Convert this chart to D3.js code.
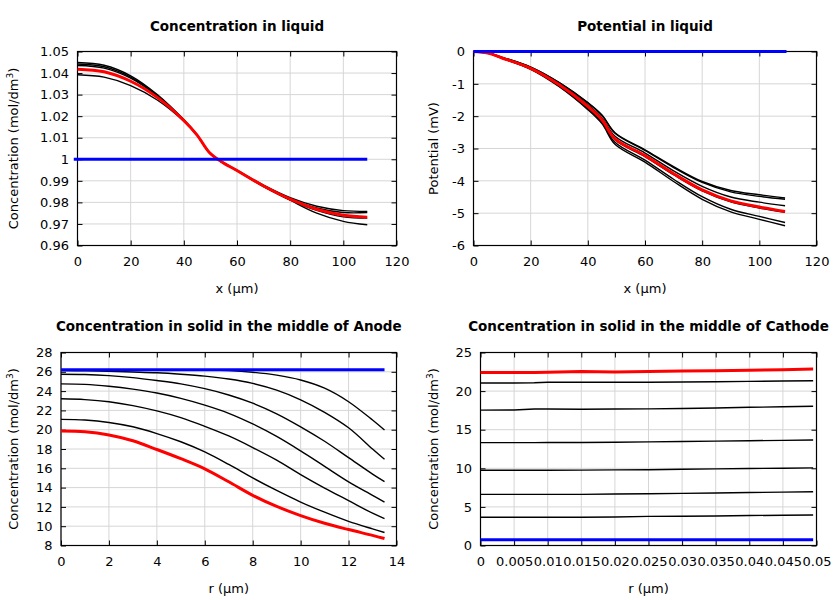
<!DOCTYPE html>
<html><head><meta charset="utf-8">
<script src="https://cdn.jsdelivr.net/npm/d3@7"></script>
<style>
body{margin:0;background:#fff}
svg{display:block}
text{font-family:"DejaVu Sans",sans-serif}
</style>
</head><body>
<svg id="c" width="840" height="600"></svg>
<script>
// ---------- Panel 1: Concentration in liquid ----------
const liqX = [0,10,20,30,40,45,49.5,54,60,70,80,90,100,109];
const liqRed = [1.0418,1.0406,1.0362,1.0287,1.0180,1.0112,1.0033,0.9990,0.9948,0.9876,0.9815,0.9768,0.9740,0.9731];
const liqBlack = [
  [1.0449,1.0436,1.0387,1.0300,1.0183,1.0113,1.0033,0.9989,0.9947,0.9873,0.9810,0.9750,0.9712,0.9696],
  [1.0442,1.0429,1.0381,1.0296,1.0182,1.0113,1.0033,0.9989,0.9947,0.9874,0.9812,0.9763,0.9733,0.9727],
  [1.0435,1.0423,1.0376,1.0293,1.0181,1.0112,1.0033,0.9990,0.9948,0.9876,0.9816,0.9774,0.9753,0.9753],
  [1.0392,1.0381,1.0342,1.0275,1.0176,1.0110,1.0033,0.9991,0.9950,0.9880,0.9822,0.9782,0.9762,0.9758]
];
const liqBlueX = [-1.4,109];
const liqBlue = [1,1];
const liqXTicks = [0,20,40,60,80,100,120];
const liqXLabels = ["0","20","40","60","80","100","120"];
const liqYTicks = [0.96,0.97,0.98,0.99,1,1.01,1.02,1.03,1.04,1.05];
const liqYLabels = ["0.96","0.97","0.98","0.99","1","1.01","1.02","1.03","1.04","1.05"];

// ---------- Panel 2: Potential in liquid ----------
const potX = [0,5,10,20,30,40,45,49.5,60,70,80,90,100,109];
const potRed = [0,-0.05,-0.2,-0.52,-1.03,-1.70,-2.12,-2.70,-3.22,-3.78,-4.28,-4.62,-4.81,-4.95];
const potBlack = [
  [0,-0.04,-0.18,-0.48,-0.96,-1.58,-1.97,-2.51,-3.04,-3.56,-4.02,-4.30,-4.43,-4.53],
  [0,-0.04,-0.18,-0.48,-0.96,-1.59,-1.98,-2.53,-3.06,-3.59,-4.05,-4.34,-4.48,-4.57],
  [0,-0.05,-0.19,-0.50,-1.00,-1.65,-2.06,-2.62,-3.14,-3.69,-4.17,-4.50,-4.66,-4.77],
  [0,-0.05,-0.20,-0.52,-1.04,-1.72,-2.14,-2.73,-3.25,-3.81,-4.31,-4.65,-4.84,-4.97],
  [0,-0.05,-0.21,-0.54,-1.07,-1.77,-2.20,-2.81,-3.36,-3.95,-4.49,-4.88,-5.10,-5.29],
  [0,-0.05,-0.21,-0.55,-1.09,-1.80,-2.24,-2.87,-3.42,-4.02,-4.57,-4.96,-5.19,-5.39]
];
const potBlueX = [0,109.5];
const potBlue = [0,0];
const potXTicks = [0,20,40,60,80,100,120];
const potXLabels = ["0","20","40","60","80","100","120"];
const potYTicks = [-6,-5,-4,-3,-2,-1,0];
const potYLabels = ["-6","-5","-4","-3","-2","-1","0"];

// ---------- Panel 3: Anode solid ----------
const anR = [0,1,2,3,4,5,6,7,8,9,10,11,12,13,13.5];
const anRed = [19.86,19.78,19.45,18.85,17.95,17.0,15.95,14.6,13.2,12.05,11.1,10.3,9.65,9.05,8.72];
const anBlack = [
  [26.2,26.2,26.2,26.2,26.2,26.2,26.18,26.12,25.95,25.65,25.15,24.3,22.9,21.0,19.96],
  [26.12,26.1,26.05,25.98,25.9,25.75,25.55,25.25,24.8,24.1,23.1,21.8,20.2,18.0,16.93],
  [25.75,25.72,25.6,25.4,25.1,24.75,24.25,23.6,22.75,21.65,20.3,18.8,17.1,15.4,14.62],
  [24.75,24.7,24.5,24.2,23.8,23.25,22.55,21.7,20.6,19.3,17.8,16.2,14.6,13.2,12.49],
  [23.2,23.12,22.9,22.5,21.95,21.25,20.35,19.35,18.15,16.85,15.35,13.95,12.65,11.35,10.79],
  [21.07,21.0,20.75,20.3,19.6,18.75,17.7,16.4,15.0,13.7,12.5,11.45,10.5,9.72,9.35]
];
const anBlueX = [0,13.5];
const anBlue = [26.2,26.2];
const anXTicks = [0,2,4,6,8,10,12,14];
const anXLabels = ["0","2","4","6","8","10","12","14"];
const anYTicks = [8,10,12,14,16,18,20,22,24,26,28];
const anYLabels = ["8","10","12","14","16","18","20","22","24","26","28"];

// ---------- Panel 4: Cathode solid ----------
const caR = [0,0.005,0.008,0.01,0.015,0.02,0.025,0.03,0.035,0.04,0.045,0.0495];
const caRed = [22.42,22.42,22.42,22.45,22.55,22.48,22.55,22.6,22.65,22.7,22.78,22.85];
const caBlack = [
  [21.05,21.05,21.08,21.15,21.15,21.15,21.15,21.18,21.22,21.26,21.3,21.35],
  [17.53,17.55,17.68,17.68,17.65,17.68,17.7,17.75,17.82,17.9,17.97,18.04],
  [13.32,13.32,13.33,13.34,13.35,13.38,13.42,13.47,13.52,13.57,13.62,13.66],
  [9.75,9.75,9.75,9.75,9.77,9.8,9.82,9.87,9.92,9.97,10.01,10.05],
  [6.62,6.62,6.62,6.62,6.62,6.68,6.7,6.75,6.8,6.86,6.91,6.96],
  [3.65,3.65,3.65,3.65,3.66,3.7,3.77,3.78,3.83,3.88,3.92,3.95]
];
const caBlueX = [0,0.0495];
const caBlue = [0.73,0.73];
const caXTicks = [0,0.005,0.01,0.015,0.02,0.025,0.03,0.035,0.04,0.045,0.05];
const caXLabels = ["0","0.005","0.01","0.015","0.02","0.025","0.03","0.035","0.04","0.045","0.05"];
const caYTicks = [0,5,10,15,20,25];
const caYLabels = ["0","5","10","15","20","25"];

const svg = d3.select("#c");
const FS = 13;
const smooth = d3.curveCatmullRom.alpha(0.5);

function panel(cfg){
  const g = svg.append("g");
  const x = d3.scaleLinear().domain(cfg.xDomain).range([cfg.left, cfg.right]);
  const y = d3.scaleLinear().domain(cfg.yDomain).range([cfg.bottom, cfg.top]);

  // grid
  g.append("g").selectAll("line").data(cfg.xTicks).join("line")
    .attr("x1", d=>x(d)).attr("x2", d=>x(d)).attr("y1", cfg.top).attr("y2", cfg.bottom)
    .attr("stroke", "#d6d6d6").attr("stroke-width", 1);
  g.append("g").selectAll("line").data(cfg.yTicks).join("line")
    .attr("y1", d=>y(d)).attr("y2", d=>y(d)).attr("x1", cfg.left).attr("x2", cfg.right)
    .attr("stroke", "#d6d6d6").attr("stroke-width", 1);

  const styleAxis = a => {
    a.select(".domain").remove();
    a.attr("font-family", "DejaVu Sans, sans-serif").attr("font-size", FS);
    a.selectAll("line").attr("stroke", "#000");
    a.selectAll("text").attr("fill", "#000");
  };
  g.append("g").attr("transform", `translate(0,${cfg.bottom})`)
    .call(d3.axisBottom(x).tickValues(cfg.xTicks).tickFormat((d,i)=>cfg.xLabels[i]).tickSize(-5).tickPadding(10.8))
    .call(styleAxis);
  g.append("g").attr("transform", `translate(0,${cfg.top})`)
    .call(d3.axisTop(x).tickValues(cfg.xTicks).tickFormat("").tickSize(-5))
    .call(styleAxis);
  g.append("g").attr("transform", `translate(${cfg.left},0)`)
    .call(d3.axisLeft(y).tickValues(cfg.yTicks).tickFormat((d,i)=>cfg.yLabels[i]).tickSize(-5).tickPadding(8.5))
    .call(styleAxis);
  g.append("g").attr("transform", `translate(${cfg.right},0)`)
    .call(d3.axisRight(y).tickValues(cfg.yTicks).tickFormat("").tickSize(-5))
    .call(styleAxis);

  // frame
  g.append("rect").attr("x", cfg.left).attr("y", cfg.top)
    .attr("width", cfg.right-cfg.left).attr("height", cfg.bottom-cfg.top)
    .attr("fill", "none").attr("stroke", "#000").attr("stroke-width", 1.2);

  const line = (xs, curve) => d3.line().x((d,i)=>x(xs[i])).y(d=>y(d)).curve(curve);
  cfg.black.forEach(s => {
    g.append("path").attr("d", line(cfg.xs, cfg.curve)(s))
      .attr("fill","none").attr("stroke","#000").attr("stroke-width",1.4);
  });
  g.append("path").attr("d", line(cfg.xs, cfg.curve)(cfg.red))
    .attr("fill","none").attr("stroke","#ff0000").attr("stroke-width",3);
  g.append("path").attr("d", line(cfg.blueX, d3.curveLinear)(cfg.blue))
    .attr("fill","none").attr("stroke","#0000ff").attr("stroke-width",3);

  // title
  g.append("text").attr("x", (cfg.left+cfg.right)/2).attr("y", cfg.titleY)
    .attr("text-anchor","middle").attr("font-weight","bold").attr("font-size", 13.5)
    .text(cfg.title);
  // x label
  g.append("text").attr("x", (cfg.left+cfg.right)/2).attr("y", cfg.bottom+47.5)
    .attr("text-anchor","middle").attr("font-size", FS).text(cfg.xLabel);
  // y label
  const yl = g.append("text")
    .attr("transform", `translate(${cfg.yLabelX},${(cfg.top+cfg.bottom)/2}) rotate(-90)`)
    .attr("text-anchor","middle").attr("font-size", FS);
  if (cfg.yLabelSup) {
    yl.append("tspan").text(cfg.yLabel);
    yl.append("tspan").attr("font-size", 9).attr("dy", -5).text(cfg.yLabelSup);
    yl.append("tspan").attr("dy", 5).text(")");
  } else {
    yl.text(cfg.yLabel);
  }
}

panel({title:"Concentration in liquid", titleY:31, left:77.5, right:396.5, top:51.5, bottom:245.5,
  xDomain:[0,120], yDomain:[0.96,1.05], xTicks:liqXTicks, xLabels:liqXLabels, yTicks:liqYTicks, yLabels:liqYLabels,
  xs:liqX, black:liqBlack, red:liqRed, blueX:liqBlueX, blue:liqBlue, curve:smooth,
  xLabel:"x (µm)", yLabel:"Concentration (mol/dm", yLabelSup:"3", yLabelX:18});

panel({title:"Potential in liquid", titleY:31, left:473.5, right:816.5, top:51.5, bottom:245.5,
  xDomain:[0,120], yDomain:[-6,0], xTicks:potXTicks, xLabels:potXLabels, yTicks:potYTicks, yLabels:potYLabels,
  xs:potX, black:potBlack, red:potRed, blueX:potBlueX, blue:potBlue, curve:smooth,
  xLabel:"x (µm)", yLabel:"Potential (mV)", yLabelX:438});

panel({title:"Concentration in solid in the middle of Anode", titleY:331, left:61, right:396.5, top:352.5, bottom:545.5,
  xDomain:[0,14], yDomain:[8,28], xTicks:anXTicks, xLabels:anXLabels, yTicks:anYTicks, yLabels:anYLabels,
  xs:anR, black:anBlack, red:anRed, blueX:anBlueX, blue:anBlue, curve:smooth,
  xLabel:"r (µm)", yLabel:"Concentration (mol/dm", yLabelSup:"3", yLabelX:18});

panel({title:"Concentration in solid in the middle of Cathode", titleY:331, left:480.5, right:816.5, top:352.5, bottom:545.5,
  xDomain:[0,0.05], yDomain:[0,25], xTicks:caXTicks, xLabels:caXLabels, yTicks:caYTicks, yLabels:caYLabels,
  xs:caR, black:caBlack, red:caRed, blueX:caBlueX, blue:caBlue, curve:d3.curveLinear,
  xLabel:"r (µm)", yLabel:"Concentration (mol/dm", yLabelSup:"3", yLabelX:438});
</script>
</body></html>
